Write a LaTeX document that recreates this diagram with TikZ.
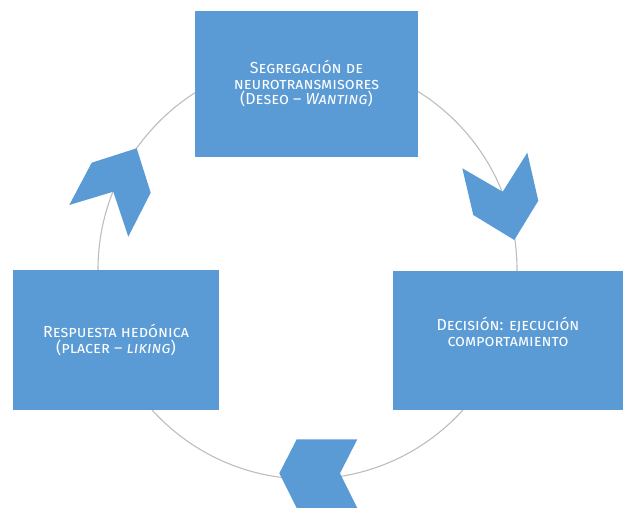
\documentclass[tikz,border=0pt]{standalone}
\usepackage{fontspec}
\setmainfont{Fira Sans}
\definecolor{boxblue}{HTML}{5B9BD5}
\definecolor{ringgray}{HTML}{BDBDBD}

\begin{document}
\begin{tikzpicture}[x=1pt, y=-1pt,
            stagebox/.style={
            fill=boxblue,
            draw=none,
            text=white,
            align=center,
            inner sep=0pt,
            font=\fontsize{16}{15.5}\selectfont\scshape},
            chevron/.style={fill=boxblue, draw=none},
            ring/.style={draw=ringgray, line width=1.1pt}]
            \useasboundingbox (0,0) rectangle (629,508);
            % cycle ring behind the stages
            \draw[ring] (307.5,269.5) circle[radius=209.5];
            \node[stagebox, minimum width=223, minimum height=146] (deseo) at (306.5,84)
                {Segregación de\\ neurotransmisores\\ (Deseo – \textit{Wanting})};
            \node[stagebox, minimum width=230, minimum height=139, text depth=17pt] (decision) at (508,340.5)
                {Decisión: ejecución\\ comportamiento};
            \node[stagebox, minimum width=206, minimum height=140] (placer) at (116,340)
                {Respuesta hedónica\\ (placer – \textit{liking})};
            % chevrons along the ring
            \fill[chevron] (462.3,168.3) -- (473.3,215) -- (514.3,240) -- (538.3,200.7)
                -- (527.3,152.7) -- (502.7,191.7) -- cycle;
            \fill[chevron] (357.3,439.3) -- (296.7,439.3) -- (279.3,473.3) -- (296.7,508)
                -- (357.3,508) -- (340,473.3) -- cycle;
            \fill[chevron] (69.3,205) -- (91.7,162.7) -- (136.7,148.3) -- (150.7,192.7)
                -- (128.3,236.7) -- (113.3,191.7) -- cycle;
        \end{tikzpicture}
\end{document}
